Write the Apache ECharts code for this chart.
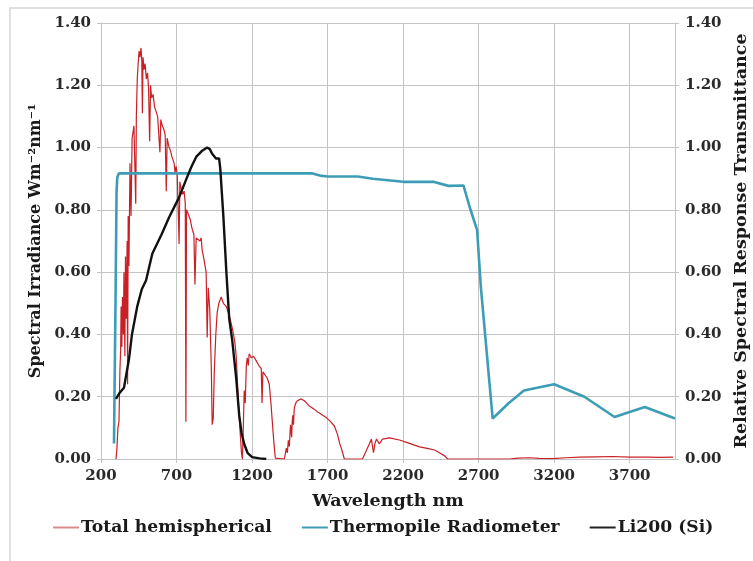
<!DOCTYPE html>
<html>
<head>
<meta charset="utf-8">
<script src="https://cdn.jsdelivr.net/npm/echarts@6/dist/echarts.min.js"></script>
<style>
  html, body { margin: 0; padding: 0; background: #fff; }
  #chart { width: 753px; height: 561px; }
</style>
</head>
<body>
<div id="chart"></div>
<script>
const FONT = '"DejaVu Serif", serif';

// wavelength (nm), spectral irradiance (W m-2 nm-1)
const totalHemispherical = [
  [299, 0.00], [305, 0.03], [312, 0.10], [319, 0.12], [325, 0.28], [330, 0.35],
  [333, 0.49], [338, 0.36], [342, 0.52], [348, 0.40], [352, 0.60], [358, 0.33],
  [362, 0.65], [367, 0.45], [373, 0.70], [376, 0.24], [380, 0.78], [385, 0.62],
  [392, 0.95], [399, 0.78], [406, 1.03], [412, 1.05], [418, 1.07], [425, 1.065],
  [430, 0.82], [434, 1.10], [440, 1.22], [446, 1.27], [452, 1.31], [458, 1.29],
  [465, 1.32], [470, 1.28], [474, 1.11], [478, 1.29], [485, 1.25], [492, 1.27],
  [500, 1.22], [508, 1.24], [515, 1.19], [522, 1.02], [528, 1.20], [535, 1.16],
  [545, 1.17], [555, 1.13], [565, 1.13], [575, 1.10], [585, 1.10], [590, 0.985],
  [596, 1.09], [606, 1.07], [615, 1.06], [625, 1.04], [632, 0.86], [638, 1.03],
  [651, 1.00], [660, 0.99], [670, 0.97], [684, 0.95], [690, 0.92], [697, 0.94],
  [705, 0.91], [717, 0.69], [722, 0.89], [730, 0.87], [740, 0.85], [750, 0.86],
  [758, 0.82], [762, 0.12], [766, 0.80], [775, 0.79], [790, 0.77], [803, 0.74],
  [815, 0.72], [822, 0.56], [830, 0.71], [843, 0.71], [855, 0.70], [863, 0.71],
  [870, 0.67], [882, 0.64], [896, 0.60], [903, 0.39], [910, 0.55], [920, 0.48],
  [930, 0.30], [936, 0.11], [943, 0.13], [950, 0.28], [960, 0.40], [969, 0.47],
  [980, 0.50], [996, 0.52], [1010, 0.50], [1029, 0.49], [1050, 0.46], [1069, 0.42],
  [1085, 0.38], [1095, 0.33], [1102, 0.26], [1112, 0.16], [1122, 0.08], [1130, 0.02],
  [1136, 0.00], [1142, 0.10], [1148, 0.22], [1155, 0.18], [1162, 0.30], [1168, 0.325],
  [1175, 0.30], [1181, 0.338], [1195, 0.325], [1210, 0.33], [1228, 0.315], [1245, 0.30],
  [1261, 0.29], [1266, 0.18], [1272, 0.28], [1285, 0.285], [1300, 0.26], [1314, 0.24],
  [1325, 0.18], [1334, 0.12], [1345, 0.05], [1354, 0.003], [1414, 0.00], [1427, 0.035],
  [1434, 0.02], [1440, 0.06], [1447, 0.04], [1452, 0.09], [1455, 0.11], [1462, 0.07],
  [1466, 0.12], [1470, 0.14], [1474, 0.11], [1480, 0.165], [1490, 0.18], [1500, 0.187],
  [1526, 0.193], [1546, 0.187], [1560, 0.18], [1570, 0.175], [1579, 0.17], [1595, 0.165],
  [1612, 0.16], [1630, 0.152], [1646, 0.148], [1670, 0.14], [1692, 0.133], [1720, 0.12],
  [1745, 0.106], [1765, 0.08], [1780, 0.05], [1791, 0.035], [1811, 0.00], [1931, 0.00],
  [1950, 0.02], [1964, 0.035], [1978, 0.05], [1990, 0.064], [2004, 0.02], [2014, 0.05],
  [2024, 0.064], [2043, 0.048], [2063, 0.064], [2110, 0.068], [2176, 0.061], [2242, 0.05],
  [2309, 0.039], [2360, 0.034], [2408, 0.029], [2441, 0.02], [2475, 0.01], [2495, 0.00],
  [2906, 0.00], [2960, 0.003], [3038, 0.004], [3100, 0.002], [3190, 0.001], [3280, 0.004],
  [3370, 0.006], [3480, 0.007], [3590, 0.008], [3700, 0.006], [3814, 0.006], [3900, 0.005],
  [3987, 0.006]
];

// wavelength (nm), relative transmittance
const thermopile = [
  [286, 0.05], [296, 0.50], [303, 0.86], [308, 0.905], [318, 0.917], [1600, 0.917],
  [1650, 0.91], [1700, 0.907], [1900, 0.907], [2000, 0.90], [2100, 0.895], [2200, 0.89],
  [2400, 0.89], [2500, 0.877], [2600, 0.878], [2640, 0.81], [2690, 0.735], [2715, 0.55],
  [2793, 0.13], [2900, 0.18], [3000, 0.22], [3200, 0.24], [3400, 0.20], [3600, 0.135],
  [3800, 0.167], [4000, 0.13]
];

// wavelength (nm), relative spectral response
const li200 = [
  [299, 0.193], [320, 0.21], [352, 0.229], [365, 0.235], [385, 0.32], [405, 0.40],
  [440, 0.49], [470, 0.545], [498, 0.573], [540, 0.66], [600, 0.72], [651, 0.776],
  [717, 0.84], [770, 0.905], [800, 0.94], [830, 0.97], [870, 0.99], [903, 1.00],
  [920, 0.995], [936, 0.98], [961, 0.965], [982, 0.965], [990, 0.93], [1010, 0.78],
  [1030, 0.60], [1049, 0.45], [1069, 0.38], [1095, 0.26], [1115, 0.14], [1130, 0.085],
  [1148, 0.048], [1170, 0.02], [1200, 0.006], [1250, 0.002], [1294, 0.00]
];

const seriesNames = ["Total hemispherical", "Thermopile Radiometer", "Li200 (Si)"];
const seriesColors = ["#c91f26", "#3d9db7", "#111111"];

const chart = echarts.init(document.getElementById("chart"), null, { renderer: "canvas" });

const gridColor = "#c4c4c4";
const labelStyle = { color: "#2a2a2a", fontSize: 15, fontWeight: "bold", fontFamily: FONT };
const nameStyle = { color: "#1a1a1a", fontSize: 17.5, fontWeight: "bold", fontFamily: FONT };

function yAxisBase(position, name, gap, size) {
  return {
    type: "value",
    position,
    min: 0,
    max: 1.4,
    interval: 0.2,
    name,
    nameLocation: "middle",
    nameGap: gap,
    nameRotate: 90,
    nameTextStyle: { ...nameStyle, fontSize: size },
    axisLine: { show: true, lineStyle: { color: gridColor } },
    axisTick: { show: true, length: 4, lineStyle: { color: gridColor } },
    axisLabel: { ...labelStyle, margin: 10, formatter: (v) => v.toFixed(2) },
    splitLine: { show: position === "left", lineStyle: { color: gridColor, width: 1 } },
  };
}

chart.setOption({
  animation: false,
  backgroundColor: "#fff",
  textStyle: { fontFamily: FONT },
  graphic: [{
    type: "rect",
    shape: { x: 10, y: 8, width: 800, height: 700 },
    style: { fill: "none", stroke: "#d6d6d6", lineWidth: 1.5 },
    silent: true,
  }],
  grid: { left: 101, right: 78, top: 23, bottom: 102, outerBoundsMode: "none", containLabel: false },
  legend: {
    left: 53,
    top: 519,
    padding: 0,
    itemWidth: 26,
    itemHeight: 2,
    itemGap: 30,
    icon: "rect",
    textStyle: { ...nameStyle, fontSize: 17.2, padding: [0, 0, 0, -3] },
    data: seriesNames,
  },
  xAxis: {
    type: "value",
    min: 200,
    max: 4000,
    interval: 500,
    name: "Wavelength nm",
    nameLocation: "middle",
    nameGap: 33,
    nameTextStyle: nameStyle,
    axisLine: { show: true, lineStyle: { color: gridColor } },
    axisTick: { show: true, length: 4, lineStyle: { color: gridColor } },
    axisLabel: { ...labelStyle, margin: 10, showMaxLabel: false, formatter: (v) => String(v) },
    splitLine: { show: true, lineStyle: { color: gridColor, width: 1 } },
  },
  yAxis: [
    yAxisBase("left", "Spectral Irradiance Wm\u207B\u00B2nm\u207B\u00B9", 54, 16),
    yAxisBase("right", "Relative Spectral Response Transmittance", 57, 17.5),
  ],
  series: [
    {
      name: seriesNames[0],
      type: "line",
      yAxisIndex: 0,
      data: totalHemispherical,
      showSymbol: false,
      lineStyle: { width: 1.2, color: seriesColors[0] },
      itemStyle: { color: "#d98a8e" },
    },
    {
      name: seriesNames[1],
      type: "line",
      yAxisIndex: 1,
      data: thermopile,
      showSymbol: false,
      lineStyle: { width: 2.6, color: seriesColors[1] },
      itemStyle: { color: seriesColors[1] },
    },
    {
      name: seriesNames[2],
      type: "line",
      yAxisIndex: 1,
      data: li200,
      showSymbol: false,
      lineStyle: { width: 2.4, color: seriesColors[2] },
      itemStyle: { color: "#222" },
    },
  ],
});
</script>
</body>
</html>
